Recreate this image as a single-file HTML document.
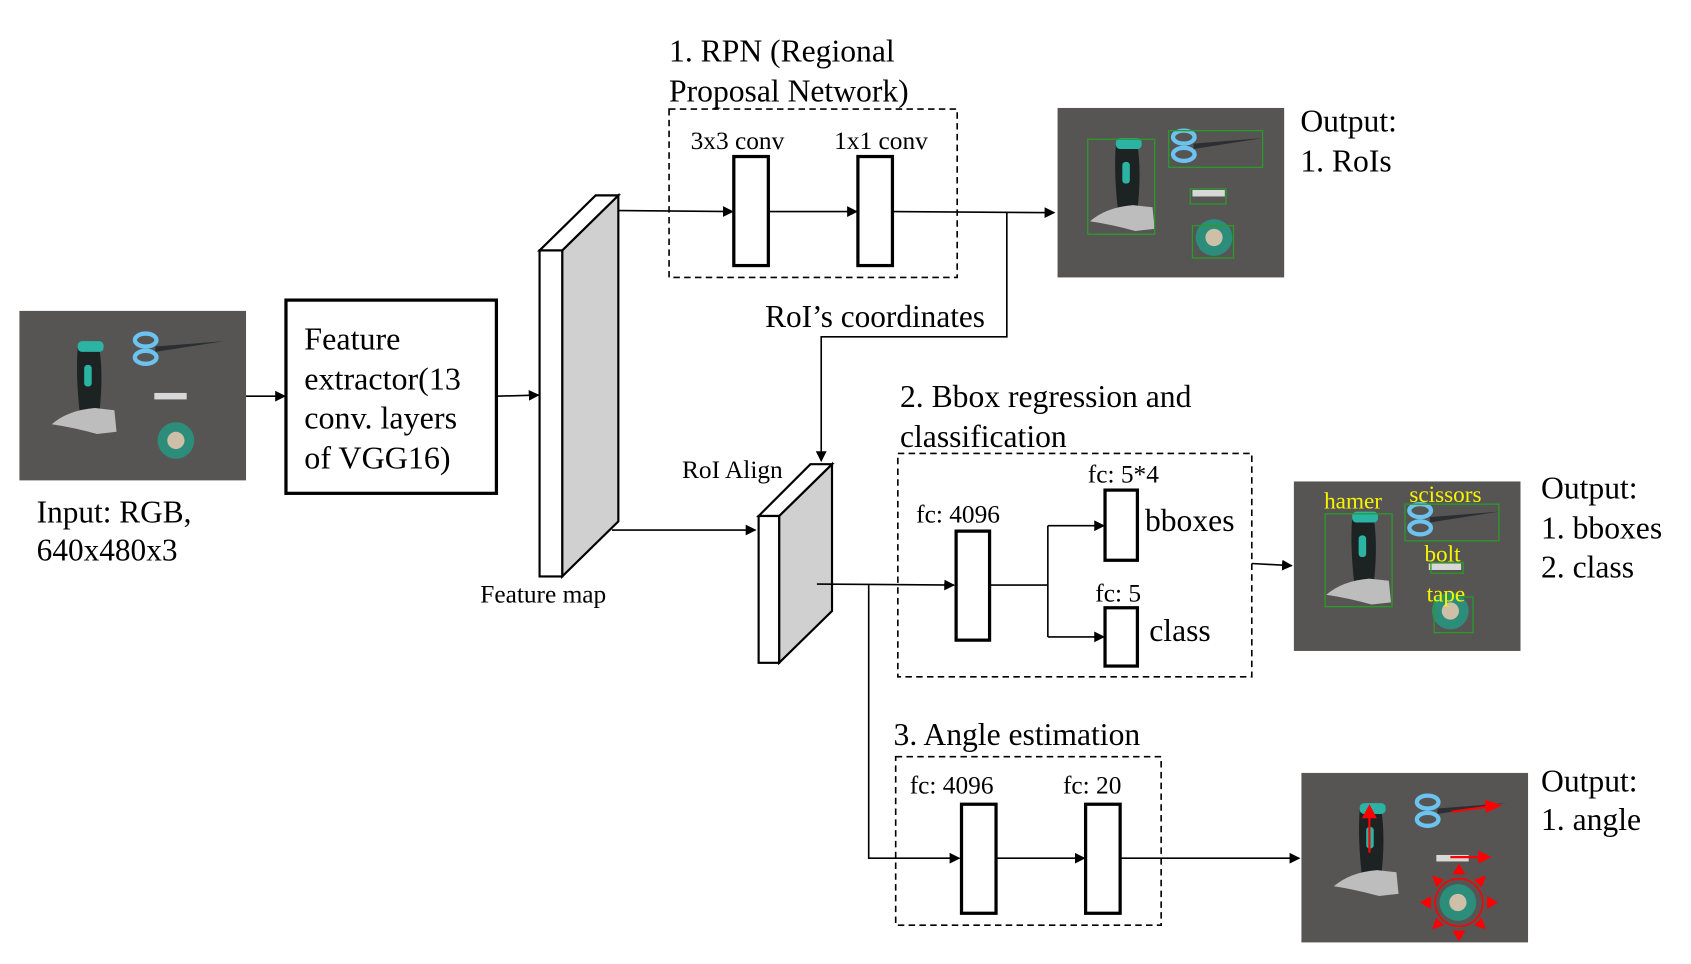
<!DOCTYPE html>
<html><head><meta charset="utf-8"><style>
html,body{margin:0;padding:0;background:#fff;}
svg{display:block}
text{font-family:"Liberation Serif",serif;fill:#000}
</style></head><body>
<svg width="1691" height="964" viewBox="0 0 1567 893" preserveAspectRatio="none" xmlns="http://www.w3.org/2000/svg">
<defs>
<marker id="a" markerWidth="10" markerHeight="10" refX="9" refY="5" orient="auto" markerUnits="userSpaceOnUse"><path d="M0,0 L10,5 L0,10 z" fill="#000"/></marker>
<g id="photo">
<rect x="0" y="0" width="210" height="157" fill="#565553"/>
<path d="M54,34 Q52,60 56,95 L74,95 Q78,60 74,34 z" fill="#1d2222"/>
<rect x="54" y="28" width="24" height="10" rx="4" fill="#2bb3a3"/>
<rect x="60" y="50" width="7" height="20" rx="3" fill="#2bb3a3"/>
<path d="M30,105 Q45,92 70,90 L88,92 L90,112 L72,114 Q50,108 30,105 z" fill="#bdbdbd"/>
<ellipse cx="117" cy="27" rx="10" ry="6" fill="none" stroke="#6cc3ef" stroke-width="4"/>
<ellipse cx="117" cy="43" rx="10" ry="6" fill="none" stroke="#6cc3ef" stroke-width="4"/>
<path d="M126,33 L190,28 L126,38 z" fill="#2b2f33"/>
<rect x="125" y="76" width="30" height="6" fill="#d8d8d8"/>
<circle cx="145" cy="120" r="17" fill="#2c8d7a"/>
<circle cx="145" cy="120" r="8" fill="#cdbfa8"/>
</g>
</defs>

<use href="#photo" x="18" y="288"/>
<text x="34" y="484" font-size="29">Input: RGB,</text>
<text x="34" y="519" font-size="29">640x480x3</text>
<line x1="228" y1="367" x2="264" y2="367" stroke="#000" stroke-width="1.5" marker-end="url(#a)"/>

<rect x="265" y="278" width="195" height="179" fill="none" stroke="#000" stroke-width="3"/>
<text x="282" y="324" font-size="29.7">Feature</text>
<text x="282" y="361" font-size="29.7">extractor(13</text>
<text x="282" y="397" font-size="29.7">conv. layers</text>
<text x="282" y="434" font-size="29.7">of VGG16)</text>
<line x1="460" y1="367" x2="499" y2="366" stroke="#000" stroke-width="1.5" marker-end="url(#a)"/>

<polygon points="521,232 573,181 573,483 521,534" fill="#d0d0d0" stroke="#000" stroke-width="2"/>
<polygon points="500,232 552,181 573,181 521,232" fill="#fff" stroke="#000" stroke-width="2"/>
<rect x="500" y="232" width="21" height="302" fill="#fff" stroke="#000" stroke-width="2"/>
<text x="445" y="558" font-size="23.5">Feature map</text>

<text x="620" y="57" font-size="29.3">1. RPN (Regional</text>
<text x="620" y="94" font-size="29.3">Proposal Network)</text>
<rect x="620" y="101" width="267" height="156" fill="none" stroke="#000" stroke-width="1.5" stroke-dasharray="6,4"/>
<line x1="573" y1="195" x2="679" y2="196" stroke="#000" stroke-width="1.5" marker-end="url(#a)"/>
<text x="640" y="138" font-size="23.5">3x3 conv</text>
<rect x="680" y="145" width="32" height="101" fill="#fff" stroke="#000" stroke-width="3"/>
<text x="773" y="138" font-size="23.5">1x1 conv</text>
<rect x="795" y="145" width="32" height="101" fill="#fff" stroke="#000" stroke-width="3"/>
<line x1="712" y1="196" x2="794" y2="196" stroke="#000" stroke-width="1.5" marker-end="url(#a)"/>
<line x1="827" y1="196" x2="977" y2="197" stroke="#000" stroke-width="1.5" marker-end="url(#a)"/>

<use href="#photo" x="980" y="100"/>
<g fill="none" stroke="#2a9a2a" stroke-width="1.2">
<rect x="1008" y="129" width="62" height="88"/><rect x="1083" y="121" width="87" height="34"/>
<rect x="1103" y="175" width="33" height="14"/><rect x="1105" y="209" width="38" height="30"/>
</g>
<text x="1205" y="122" font-size="29.3">Output:</text>
<text x="1205" y="159" font-size="29.3">1. RoIs</text>

<polyline points="933,197 933,312 761,312 761,427" fill="none" stroke="#000" stroke-width="1.5" marker-end="url(#a)"/>
<rect x="705" y="280" width="226" height="30" fill="#fff"/>
<text x="709" y="303" font-size="29">RoI’s coordinates</text>

<polygon points="722,478 771,430 771,566 722,614" fill="#d0d0d0" stroke="#000" stroke-width="2"/>
<polygon points="703,478 751,430 771,430 722,478" fill="#fff" stroke="#000" stroke-width="2"/>
<rect x="703" y="478" width="19" height="136" fill="#fff" stroke="#000" stroke-width="2"/>
<text x="632" y="443" font-size="23.5">RoI Align</text>
<line x1="567" y1="491" x2="700" y2="491" stroke="#000" stroke-width="1.5" marker-end="url(#a)"/>

<text x="834" y="377" font-size="29.3">2. Bbox regression and</text>
<text x="834" y="414" font-size="29.3">classification</text>
<rect x="832" y="420" width="328" height="207" fill="none" stroke="#000" stroke-width="1.5" stroke-dasharray="6,4"/>
<line x1="757" y1="541" x2="884" y2="542" stroke="#000" stroke-width="1.5" marker-end="url(#a)"/>
<text x="849" y="484" font-size="23.5">fc: 4096</text>
<rect x="886" y="492" width="31" height="101" fill="#fff" stroke="#000" stroke-width="3"/>
<polyline points="917,542 971,542" fill="none" stroke="#000" stroke-width="1.5"/>
<line x1="971" y1="487" x2="971" y2="590" stroke="#000" stroke-width="1.5"/>
<line x1="971" y1="487" x2="1023" y2="487" stroke="#000" stroke-width="1.5" marker-end="url(#a)"/>
<line x1="971" y1="590" x2="1023" y2="590" stroke="#000" stroke-width="1.5" marker-end="url(#a)"/>
<text x="1008" y="447" font-size="23.5">fc: 5*4</text>
<rect x="1024" y="454" width="30" height="65" fill="#fff" stroke="#000" stroke-width="3"/>
<text x="1061" y="492" font-size="29.3">bboxes</text>
<text x="1015" y="557" font-size="23.5">fc: 5</text>
<rect x="1024" y="563" width="30" height="54" fill="#fff" stroke="#000" stroke-width="3"/>
<text x="1065" y="594" font-size="29.3">class</text>
<line x1="1160" y1="522" x2="1197" y2="524" stroke="#000" stroke-width="1.5" marker-end="url(#a)"/>

<use href="#photo" x="1199" y="446"/>
<g fill="none" stroke="#2a9a2a" stroke-width="1.2">
<rect x="1228" y="476" width="62" height="86"/><rect x="1302" y="467" width="87" height="34"/>
<rect x="1326" y="521" width="30" height="10"/><rect x="1329" y="553" width="36" height="33"/>
</g>
<g font-size="21.5">
<text x="1227" y="471" style="fill:#f5f500">hamer</text>
<text x="1306" y="465" style="fill:#f5f500">scissors</text>
<text x="1320" y="520" style="fill:#f5f500">bolt</text>
<text x="1322" y="557" style="fill:#f5f500">tape</text>
</g>
<text x="1428" y="462" font-size="29.3">Output:</text>
<text x="1428" y="499" font-size="29.3">1. bboxes</text>
<text x="1428" y="535" font-size="29.3">2. class</text>

<polyline points="805,542 805,795 889,795" fill="none" stroke="#000" stroke-width="1.5" marker-end="url(#a)"/>
<text x="828" y="690" font-size="29.3">3. Angle estimation</text>
<rect x="830" y="701" width="246" height="156" fill="none" stroke="#000" stroke-width="1.5" stroke-dasharray="6,4"/>
<text x="843" y="735" font-size="23.5">fc: 4096</text>
<rect x="891" y="745" width="32" height="101" fill="#fff" stroke="#000" stroke-width="3"/>
<text x="985" y="735" font-size="23.5">fc: 20</text>
<rect x="1006" y="745" width="32" height="101" fill="#fff" stroke="#000" stroke-width="3"/>
<line x1="923" y1="795" x2="1005" y2="795" stroke="#000" stroke-width="1.5" marker-end="url(#a)"/>
<line x1="1038" y1="795" x2="1204" y2="795" stroke="#000" stroke-width="1.5" marker-end="url(#a)"/>

<use href="#photo" x="1206" y="716"/>
<g stroke="#ff0000" stroke-width="2" fill="#ff0000">
<line x1="1269" y1="790" x2="1269" y2="752"/><path d="M1262,758 L1269,745 L1276,758z" stroke="none"/>
<line x1="1345" y1="752" x2="1380" y2="747"/><path d="M1376,741 L1392,746 L1377,753z" stroke="none"/>
<line x1="1344" y1="794" x2="1372" y2="794"/><path d="M1370,788 L1382,794 L1370,800z" stroke="none"/>
<circle cx="1352" cy="836" r="22" fill="none" stroke-width="1.5"/>
<path d="M1352,800 l-6,10 h12z M1352,872 l-6,-10 h12z M1316,836 l10,-6 v12z M1388,836 l-10,-6 v12z M1327,811 l4,11 l7,-7z M1377,811 l-4,11 l-7,-7z M1327,861 l4,-11 l7,7z M1377,861 l-4,-11 l-7,7z" stroke="none"/>
</g>
<text x="1428" y="733" font-size="29.3">Output:</text>
<text x="1428" y="769" font-size="29.3">1. angle</text>
</svg>
</body></html>
